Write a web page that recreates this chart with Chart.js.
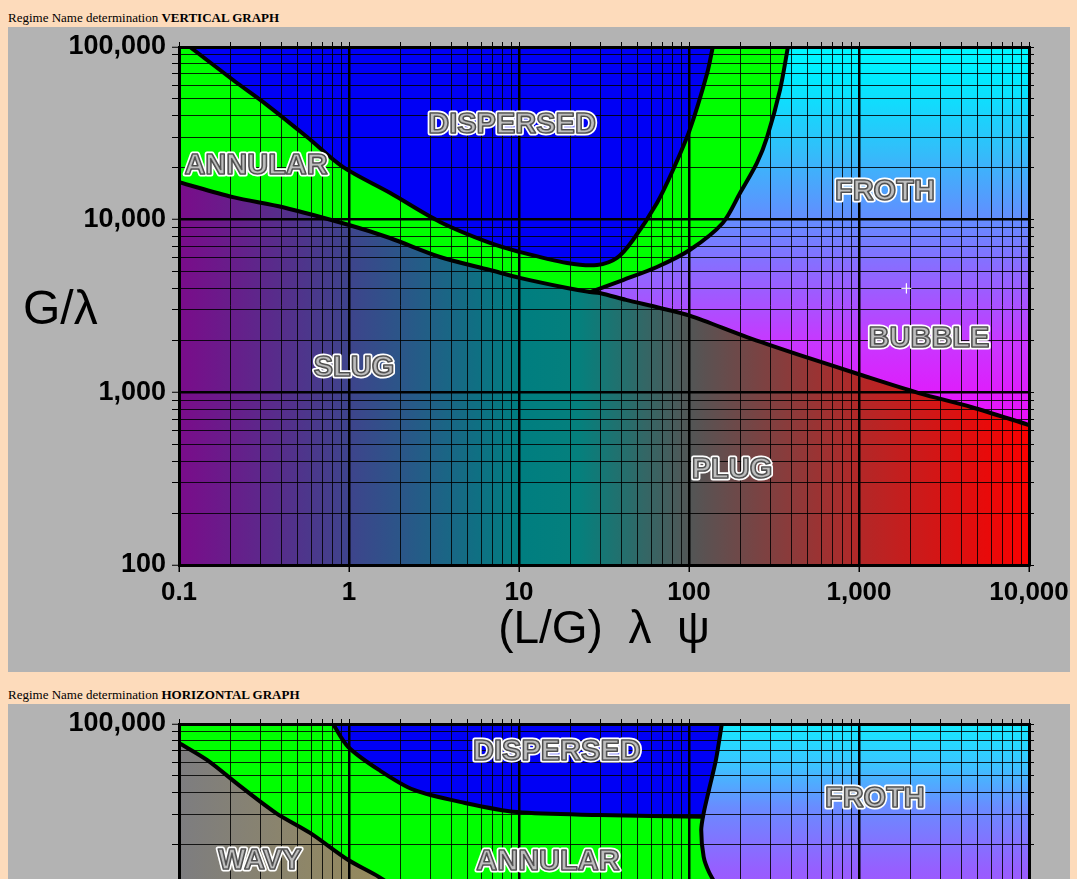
<!DOCTYPE html>
<html><head><meta charset="utf-8">
<script src="https://cdn.jsdelivr.net/npm/chart.js@4.4.1/dist/chart.umd.min.js"></script>
<style>
html,body{margin:0;padding:0;background:#FDDBBB;width:1077px;height:879px;overflow:hidden;}
.cap{position:absolute;left:8px;font:13px/13px "Liberation Serif","Times New Roman",serif;color:#000;white-space:nowrap;}
.panel{position:absolute;left:8px;width:1062px;height:645px;background:#B3B3B3;overflow:hidden;}
canvas{display:block;}
</style></head><body>
<div class="cap" style="top:11px">Regime Name determination <b>VERTICAL GRAPH</b></div>
<div class="panel" style="top:27px"><canvas id="c1" width="1067" height="645"></canvas></div>
<div class="cap" style="top:688px">Regime Name determination <b>HORIZONTAL GRAPH</b></div>
<div class="panel" style="top:704px"><canvas id="c2" width="1067" height="645"></canvas></div>
<script>
// ---------- axes ----------
const xMajor = [0.1, 1, 10, 100, 1000, 10000];
const xTickLabels = ['0.1', '1', '10', '100', '1,000', '10,000'];
const yMajor = [100, 1000, 10000, 100000];
const yTickLabels = ['100', '1,000', '10,000', '100,000'];
const xAxisTitle = '(L/G)  \u03BB  \u03C8';
const yAxisTitle = 'G/\u03BB';

// ---------- VERTICAL GRAPH boundaries ----------
// lower boundary (annular/slug, then bubble/plug)
const vLowerX = [0.1, 0.208, 0.409, 1.0, 1.74, 3.43, 6.75, 10.1, 19.2, 26.2, 29.9, 42.6, 67.5, 101, 219, 444, 1030, 2250, 4560, 10000];
const vLowerY = [16500, 13500, 11800, 9310, 7830, 6080, 5110, 4600, 4020, 3810, 3760, 3430, 3080, 2780, 2090, 1650, 1260, 990, 822, 647];
// annular / froth boundary (from junction upward)
const vFrothX = [26.2, 40.9, 64.8, 101, 158, 200, 251, 288, 343, 382];
const vFrothY = [3810, 4470, 5320, 6670, 9570, 14300, 21300, 30100, 56400, 100000];
// dispersed region outline
const vDispX = [0.116, 0.208, 0.33, 0.567, 0.92, 1.74, 3.43, 6.75, 10.1, 19.2, 28.8, 37.7, 46.8, 64.8, 80.5, 101, 128, 138];
const vDispY = [100000, 64400, 46100, 30100, 20200, 14300, 9700, 7330, 6500, 5610, 5460, 6000, 7620, 12500, 19400, 33100, 70700, 100000];
// marked operating point
const vPointX = [1900];
const vPointY = [4000];
// region names
const vLabelNames = ['DISPERSED', 'ANNULAR', 'FROTH', 'BUBBLE', 'SLUG', 'PLUG'];
const vLabelX = [9.1, 0.284, 1420, 2580, 1.07, 179];
const vLabelY = [35300, 20500, 14500, 2040, 1380, 355];

// ---------- HORIZONTAL GRAPH boundaries ----------
const hWavyX = [0.1, 0.146, 0.232, 0.372, 0.59, 0.99, 1.5, 2.6];
const hWavyY = [77600, 61900, 43200, 30500, 23400, 16300, 13000, 9000];
const hDispX = [0.805, 0.99, 1.5, 2.41, 4.81, 9.73, 29.9, 120];
const hDispY = [100000, 73600, 54200, 41500, 34900, 30900, 29700, 29000];
const hFrothX = [156, 144, 131, 122, 118, 122, 131, 150];
const hFrothY = [100000, 61900, 41500, 30500, 24300, 17000, 13900, 11000];
const hLabelNames = ['DISPERSED', 'FROTH', 'WAVY', 'ANNULAR'];
const hLabelX = [16.7, 1240, 0.299, 14.8];
const hLabelY = [68800, 36800, 16100, 15900];

// ---------- helpers ----------
const FONT = '"Liberation Sans", Arial, sans-serif';
const P = (xs, ys) => xs.map((x, i) => ({x: x, y: ys[i]}));
const XMIN = xMajor[0], XMAX = xMajor[xMajor.length - 1];
const YMIN = yMajor[0], YMAX = yMajor[yMajor.length - 1];
function decadeTicks(major) {
  const out = [];
  for (let i = 0; i < major.length - 1; i++)
    for (let k = 1; k <= 9; k++) out.push(+(k * major[i]).toPrecision(6));
  out.push(major[major.length - 1]);
  return out;
}
function isDecade(v) {
  if (!v) return false;
  const l = Math.log10(v);
  return Math.abs(l - Math.round(l)) < 1e-6;
}
function fmt(majors, labels) {
  return v => {
    const i = majors.findIndex(m => Math.abs(m - v) / m < 1e-6);
    return i >= 0 ? labels[i] : '';
  };
}
const tv = c => c.tick && c.tick.value;
function grad(ctx, vertical, stops) {
  const chart = ctx.chart, a = chart.chartArea;
  if (!a) return 'rgba(0,0,0,0)';
  const g = vertical ? chart.ctx.createLinearGradient(0, a.top, 0, a.bottom)
                     : chart.ctx.createLinearGradient(a.left, 0, a.right, 0);
  stops.forEach(s => g.addColorStop(s[0], s[1]));
  return g;
}
const slugStops = [[0, 'rgb(122,12,138)'], [0.2, 'rgb(62,68,140)'], [0.4, 'rgb(0,126,128)'], [0.47, 'rgb(5,128,125)'],
  [0.6, 'rgb(82,86,86)'], [0.8, 'rgb(178,40,40)'], [1, 'rgb(250,0,0)']];
const frothStops = [[0, 'rgb(0,250,255)'], [0.06, 'rgb(0,235,255)'], [0.2, 'rgb(50,190,250)'], [0.334, 'rgb(100,140,255)'],
  [0.49, 'rgb(165,85,255)'], [0.57, 'rgb(200,55,255)'], [0.72, 'rgb(235,15,250)'], [1, 'rgb(240,0,240)']];
const froth2Stops = [[0, 'rgb(20,235,255)'], [0.08, 'rgb(60,195,255)'], [0.16, 'rgb(105,140,255)'], [0.28, 'rgb(150,95,255)'],
  [0.6, 'rgb(225,30,255)'], [1, 'rgb(240,0,240)']];
const wavyStops = [[0, 'rgb(125,125,128)'], [0.15, 'rgb(142,134,104)'], [0.3, 'rgb(155,140,80)'], [1, 'rgb(160,140,70)']];

function axes() {
  const xt = decadeTicks(xMajor), yt = decadeTicks(yMajor);
  const setT = vals => s => { s.ticks = vals.map(v => ({value: v})); };
  const border = {display: true, color: '#000', width: 3, z: 2};
  const gridCol = c => isDecade(tv(c)) ? '#000' : 'rgba(0,0,0,0.85)';
  const gridW = c => isDecade(tv(c)) ? 2.5 : 1;
  const tickFont = {family: FONT, size: 27, weight: 'bold', lineHeight: 1};
  return {
    x: {type: 'logarithmic', position: 'bottom', min: XMIN, max: XMAX,
      afterBuildTicks: setT(xt), afterFit: s => { s.height = 107; },
      grid: {z: 1, color: gridCol, lineWidth: gridW, tickLength: 7, tickWidth: 1.5,
        tickColor: c => isDecade(tv(c)) ? '#000' : 'rgba(0,0,0,0)'},
      border: border,
      ticks: {z: 1, autoSkip: false, maxRotation: 0, minRotation: 0, padding: 5, color: '#000',
        font: {family: FONT, size: 26, weight: 'bold', lineHeight: 1.2}, callback: fmt(xMajor, xTickLabels)},
      title: {display: true, text: xAxisTitle, color: '#000', font: {family: FONT, size: 46}, padding: {top: 0, bottom: 14}}
    },
    x2: {type: 'logarithmic', position: 'top', min: XMIN, max: XMAX,
      afterBuildTicks: setT(xt), afterFit: s => { s.height = 20; },
      grid: {z: 1, drawOnChartArea: false, tickLength: 5, color: '#000', tickColor: '#000', tickWidth: 1},
      border: border, ticks: {display: false}
    },
    y: {type: 'logarithmic', position: 'left', min: YMIN, max: YMAX,
      afterBuildTicks: setT(yt), afterFit: s => { s.width = 171; },
      grid: {z: 1, color: gridCol, lineWidth: gridW, tickLength: 7, tickWidth: 1, tickColor: '#000'},
      border: border,
      ticks: {z: 1, autoSkip: false, padding: 6, color: '#000', font: tickFont, callback: fmt(yMajor, yTickLabels)}
    },
    y2: {type: 'logarithmic', position: 'right', min: YMIN, max: YMAX,
      afterBuildTicks: setT(yt), afterFit: s => { s.width = 46; },
      grid: {z: 1, drawOnChartArea: false, tickLength: 5, color: '#000', tickColor: '#000', tickWidth: 1},
      border: border, ticks: {display: false}
    }
  };
}

const labelPlugin = {
  id: 'regionLabels',
  afterDraw(chart, args, o) {
    const ctx = chart.ctx, x = chart.scales.x, y = chart.scales.y;
    // markers flagged onTop are redrawn above the grid by the library's own elements
    chart.data.datasets.forEach((ds, i) => {
      if (ds.onTop) chart.getDatasetMeta(i).data.forEach(el => el.draw(ctx, chart.chartArea));
    });
    ctx.save();
    ctx.font = 'bold 29px ' + FONT;
    ctx.textAlign = 'center';
    ctx.textBaseline = 'middle';
    ctx.lineJoin = 'round';
    o.names.forEach((t, i) => {
      const px = x.getPixelForValue(o.xs[i]), py = y.getPixelForValue(o.ys[i]);
      ctx.lineWidth = 5; ctx.strokeStyle = '#FFFFFF'; ctx.strokeText(t, px, py);
      ctx.lineWidth = 1.6; ctx.strokeStyle = '#4a4a4a'; ctx.strokeText(t, px, py);
      ctx.fillStyle = 'rgba(110,110,110,0.45)'; ctx.fillText(t, px, py);
    });
    ctx.font = '48px ' + FONT;
    ctx.textAlign = 'left';
    ctx.fillStyle = '#000';
    ctx.fillText(o.yTitle, 15, 284);
    ctx.restore();
  }
};

// filled region without outline
function area(label, data, fill, bg, order, tension) {
  return {label: label, data: data, fill: fill, backgroundColor: bg,
    borderColor: 'rgba(0,0,0,0)', borderWidth: 1,
    pointRadius: 0, pointHitRadius: 0, tension: tension, order: order};
}
// black boundary curve
function bound(label, data, order) {
  return {label: label, data: data, fill: false, borderColor: '#000', borderWidth: 4,
    borderCapStyle: 'round', borderJoinStyle: 'round',
    pointRadius: 0, pointHitRadius: 0, tension: 0.3, order: order};
}

function makeChart(id, datasets, names, xs, ys) {
  return new Chart(document.getElementById(id), {
    type: 'line',
    data: {datasets: datasets},
    options: {
      responsive: false, animation: false, events: [],
      layout: {padding: 0},
      scales: axes(),
      plugins: {legend: {display: false}, tooltip: {enabled: false},
        regionLabels: {names: names, xs: xs, ys: ys, yTitle: yAxisTitle}}
    },
    plugins: [labelPlugin]
  });
}

// ---------- VERTICAL chart ----------
const vLower = P(vLowerX, vLowerY);
const vJ = vLowerX.indexOf(vFrothX[0]);
const vAnnular = vLower.slice(0, vJ + 1).concat(P(vFrothX, vFrothY).slice(1), [{x: XMIN, y: YMAX}]);
makeChart('c1', [
  area('FROTH / BUBBLE', P(vLowerX, vLowerY), 'end', c => grad(c, true, frothStops), 7, 0.3),
  area('ANNULAR', vAnnular, 'shape', '#00FF00', 6, 0),
  area('SLUG / PLUG', P(vLowerX, vLowerY), 'start', c => grad(c, false, slugStops), 5, 0.3),
  area('DISPERSED', P(vDispX, vDispY), 'shape', 'rgb(0,0,245)', 4, 0.3),
  bound('slug boundary', P(vLowerX, vLowerY), 3),
  bound('froth boundary', P(vFrothX, vFrothY), 3),
  bound('dispersed boundary', P(vDispX, vDispY), 3),
  {label: 'point', data: P(vPointX, vPointY), showLine: false, pointStyle: 'cross', pointRadius: 5,
    pointBorderColor: '#FFFFFF', pointBorderWidth: 1, order: 0, onTop: true}
], vLabelNames, vLabelX, vLabelY);

// ---------- HORIZONTAL chart ----------
const hFroth = P(hFrothX, hFrothY);
const hLast = hFroth[hFroth.length - 1];
const hFrothPoly = hFroth.concat([{x: XMAX, y: hLast.y}, {x: XMAX, y: YMAX}]);
const hGreenPoly = [{x: XMIN, y: YMAX}].concat(P(hFrothX, hFrothY), [{x: hLast.x, y: YMIN}, {x: XMIN, y: YMIN}]);
const hWavyLast = hWavyX[hWavyX.length - 1];
const hWavyPoly = P(hWavyX, hWavyY).concat([{x: hWavyLast, y: YMIN}, {x: XMIN, y: YMIN}]);
const hDispPoly = P(hDispX, hDispY).concat(P(hFrothX, hFrothY).slice(0, 4).reverse());
makeChart('c2', [
  area('FROTH', hFrothPoly, 'shape', c => grad(c, true, froth2Stops), 7, 0),
  area('ANNULAR', hGreenPoly, 'shape', '#00FF00', 6, 0),
  area('WAVY', hWavyPoly, 'shape', c => grad(c, false, wavyStops), 5, 0),
  area('DISPERSED', hDispPoly, 'shape', 'rgb(0,0,245)', 4, 0),
  bound('wavy boundary', P(hWavyX, hWavyY), 3),
  bound('dispersed boundary', P(hDispX, hDispY), 3),
  bound('froth boundary', P(hFrothX, hFrothY), 3)
], hLabelNames, hLabelX, hLabelY);
</script>
</body></html>
